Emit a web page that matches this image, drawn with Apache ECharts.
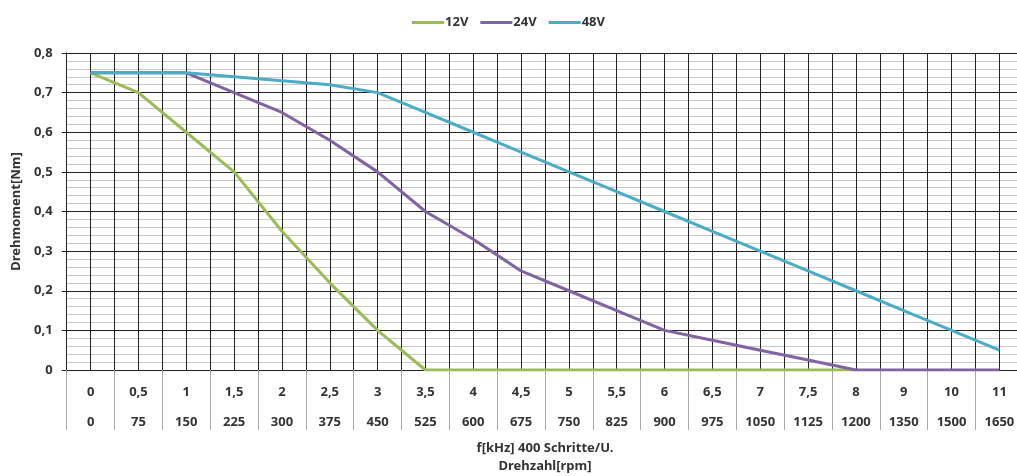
<!DOCTYPE html>
<html><head><meta charset="utf-8">
<script src="https://cdn.jsdelivr.net/npm/echarts@6/dist/echarts.min.js"></script>
<style>html,body{margin:0;padding:0;background:#fff}#c{width:1017px;height:476px}</style>
</head><body><div id="c"></div>
<script>
var freqLabels = ['0','0,5','1','1,5','2','2,5','3','3,5','4','4,5','5','5,5','6','6,5','7','7,5','8','9','10','11'];
var rpmLabels = ['0','75','150','225','300','375','450','525','600','675','750','825','900','975','1050','1125','1200','1350','1500','1650'];
var v12 = [0.75,0.70,0.60,0.50,0.35,0.22,0.10,0,0,0,0,0,0,0,0,0,0,null,null,null];
var v24 = [0.75,0.75,0.75,0.70,0.65,0.58,0.50,0.40,0.33,0.25,0.20,0.15,0.10,0.075,0.05,0.025,0,0,0,0];
var v48 = [0.75,0.75,0.75,0.74,0.73,0.72,0.70,0.65,0.60,0.55,0.50,0.45,0.40,0.35,0.30,0.25,0.20,0.15,0.10,0.05];
var seriesNames = ['12V','24V','48V'];
var colors = ['#9BBB59','#8064A2','#4BACC6'];

var FONT = 'Noto Sans';
var chart = echarts.init(document.getElementById('c'), null, {renderer:'canvas'});
var cats = freqLabels.map(function(f,i){return f + '|' + rpmLabels[i];});
var data = [v12, v24, v48];
chart.setOption({
  animation:false,
  textStyle:{fontFamily:FONT},
  legend:{
    top:11, left:'center', itemWidth:32, itemHeight:3, itemGap:12,
    icon:'rect',
    textStyle:{fontFamily:FONT, fontWeight:'bold', fontSize:13, color:'#333', padding:[0,0,0,-4]},
    data:seriesNames
  },
  grid:{left:66.7, right:-6.3, top:53, bottom:106, containLabel:false, outerBoundsMode:'none'},
  xAxis:[{
    type:'category', data:cats, boundaryGap:true, position:'bottom',
    axisLine:{show:true, lineStyle:{color:'#222', width:1}},
    axisTick:{show:true, interval:0, length:60, lineStyle:{color:'#a8a8a8'}},
    splitLine:{show:false},
    axisLabel:{interval:0, margin:7, fontFamily:FONT, fontWeight:'bold', fontSize:12, color:'#333',
      formatter:function(v){var p=v.split('|'); return '{a|'+p[0]+'}\n{a|'+p[1]+'}';},
      rich:{a:{lineHeight:30, fontFamily:FONT, fontWeight:'bold', fontSize:13, color:'#333'}}},
    name:'f[kHz] 400 Schritte/U.\nDrehzahl[rpm]', nameLocation:'middle', nameGap:69,
    nameTextStyle:{fontFamily:FONT, fontWeight:'bold', fontSize:13, color:'#333', lineHeight:18, verticalAlign:'top'}
  },{
    type:'value', min:0, max:40, interval:1, position:'bottom',
    axisLine:{show:false}, axisTick:{show:false}, axisLabel:{show:false},
    splitLine:{show:true, lineStyle:{color:'#222', width:1}}
  }],
  yAxis:{
    type:'value', min:0, max:0.8, interval:0.1,
    axisLine:{show:true, lineStyle:{color:'#222'}},
    axisTick:{show:true, length:5, lineStyle:{color:'#222'}},
    splitLine:{show:true, lineStyle:{color:'#222', width:1}},
    minorTick:{show:false, splitNumber:5},
    minorSplitLine:{show:true, lineStyle:{color:'#c8c8c8', width:1}},
    axisLabel:{margin:14, fontFamily:FONT, fontWeight:'bold', fontSize:13, color:'#333',
      formatter:function(v){return (Math.round(v*10)/10).toString().replace('.',',');}},
    name:'Drehmoment[Nm]', nameLocation:'middle', nameGap:38,
    nameTextStyle:{fontFamily:FONT, fontWeight:'bold', fontSize:13, color:'#333'}
  },
  series: seriesNames.map(function(n,i){
    return {name:n, type:'line', data:data[i], xAxisIndex:0, symbol:'none', smooth:false,
      lineStyle:{color:colors[i], width:3}, itemStyle:{color:colors[i]}, z:3+i};
  })
});
</script></body></html>
